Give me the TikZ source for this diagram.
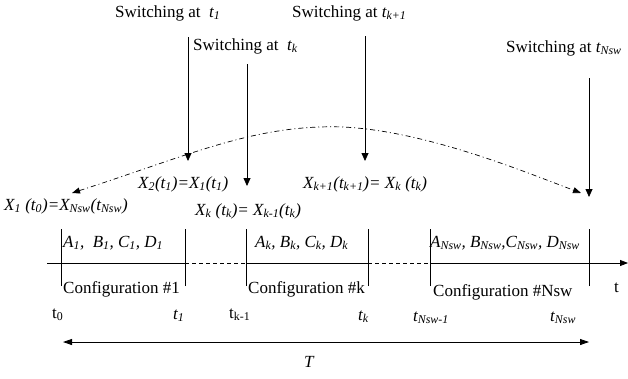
\documentclass[tikz,border=0pt]{standalone}
\usepackage{fontspec}
\setmainfont{Liberation Serif}
\usetikzlibrary{arrows.meta}
\newcommand\sbs[1]{\textsubscript{#1}}
\tikzset{
  lbl/.style={anchor=base west, inner sep=0pt, font=\fontsize{17}{20}\selectfont},
  mlbl/.style={lbl, font=\fontsize{17}{20}\selectfont\itshape},
  sw/.style={line width=0.8pt, -{Triangle[width=7pt,length=8pt]}},
  tick/.style={line width=0.8pt},
  axis/.style={line width=0.8pt},
  dsh/.style={line width=0.8pt, dash pattern=on 4pt off 3pt},
  curve/.style={line width=0.7pt, dash pattern=on 5pt off 3pt on 1pt off 3pt,
    {Triangle[width=6pt,length=8pt]}-{Triangle[width=6pt,length=8pt]}},
  span/.style={line width=0.8pt, {Triangle[width=6pt,length=9pt]}-{Triangle[width=6pt,length=9pt]}}
}
\begin{document}
\begin{tikzpicture}[x=1pt,y=-1pt]
\useasboundingbox (0,0) rectangle (628,378);
% switching labels
\node[lbl] (s1) at (115,17) {Switching at \ \textit{t\sbs{1}}};
\node[lbl] (sk) at (193,50) {Switching at \ \textit{t\sbs{k}}};
\node[lbl] (sk1) at (292,17) {Switching at \textit{t\sbs{k+1}}};
\node[lbl] (sn) at (506,52) {Switching at \textit{t\sbs{Nsw}}};
% switching arrows
\coordinate (a1s) at (188,37); \coordinate (a1e) at (188,161);
\coordinate (aks) at (247,64); \coordinate (ake) at (247,186);
\coordinate (ak1s) at (365,36); \coordinate (ak1e) at (365,161);
\coordinate (ans) at (589,78); \coordinate (ane) at (589,197);
\draw[sw] (a1s) -- (a1e);
\draw[sw] (aks) -- (ake);
\draw[sw] (ak1s) -- (ak1e);
\draw[sw] (ans) -- (ane);
% curve
\coordinate (cl) at (72,193); \coordinate (cr) at (581,193);
\draw[curve] (cl) .. controls (190,155) and (255,124) .. (343,127)
  .. controls (425,131) and (520,170) .. (cr);
% formulas
\node[mlbl] (f0) at (4,210) {X\sbs{1} (t\sbs{0})=X\sbs{Nsw}(t\sbs{Nsw})};
\node[mlbl] (f1) at (138,188) {X\sbs{2}(t\sbs{1})=X\sbs{1}(t\sbs{1})};
\node[mlbl] (fk) at (195,215) {X\sbs{k} (t\sbs{k})= X\sbs{k-1}(t\sbs{k})};
\node[mlbl] (fk1) at (303,188) {X\sbs{k+1}(t\sbs{k+1})= X\sbs{k} (t\sbs{k})};
% matrices labels
\node[mlbl] (m1) at (63,247) {A\sbs{1}, \ B\sbs{1}, C\sbs{1}, D\sbs{1}};
\node[mlbl] (mk) at (255,247) {A\sbs{k}, B\sbs{k}, C\sbs{k}, D\sbs{k}};
\node[mlbl] (mn) at (430,247) {A\sbs{Nsw}, B\sbs{Nsw},C\sbs{Nsw}, D\sbs{Nsw}};
% axis
\coordinate (ax0) at (47,263); \coordinate (axe) at (628,263);
\coordinate (x0) at (61,263); \coordinate (x1) at (185,263);
\coordinate (xk0) at (246,263); \coordinate (xk) at (368,263);
\coordinate (xn0) at (430,263); \coordinate (xn) at (589,263);
\draw[axis] (ax0) -- (x1);
\draw[dsh] (x1) -- (xk0);
\draw[axis] (xk0) -- (xk);
\draw[dsh] (xk) -- (xn0);
\draw[axis, -{Triangle[width=6pt,length=8pt]}] (xn0) -- (axe);
% ticks
\foreach \c in {x0,x1,xk0,xk,xn0,xn}{
  \draw[tick] ([yshift=-23pt]\c) -- ([yshift=34pt]\c);
}
% configurations
\node[lbl] (c1) at (63,293) {Configuration \#1};
\node[lbl] (ck) at (248,293) {Configuration \#k};
\node[lbl] (cn) at (433,296) {Configuration \#Nsw};
\node[lbl] (tt) at (614,292) {t};
% time labels
\node[lbl] (t0) at (52,318) {t\sbs{0}};
\node[mlbl] (t1) at (173,319) {t\sbs{1}};
\node[lbl] (tk0) at (229,318) {t\sbs{k-1}};
\node[mlbl] (tk) at (358,320) {t\sbs{k}};
\node[mlbl] (tn0) at (413,321) {t\sbs{Nsw-1}};
\node[mlbl] (tn) at (550,321) {t\sbs{Nsw}};
% span T
\coordinate (T0) at (63,342); \coordinate (T1) at (589,342);
\draw[span] (T0) -- (T1);
\node[mlbl] (T) at (304,367) {T};
\end{tikzpicture}
\end{document}
